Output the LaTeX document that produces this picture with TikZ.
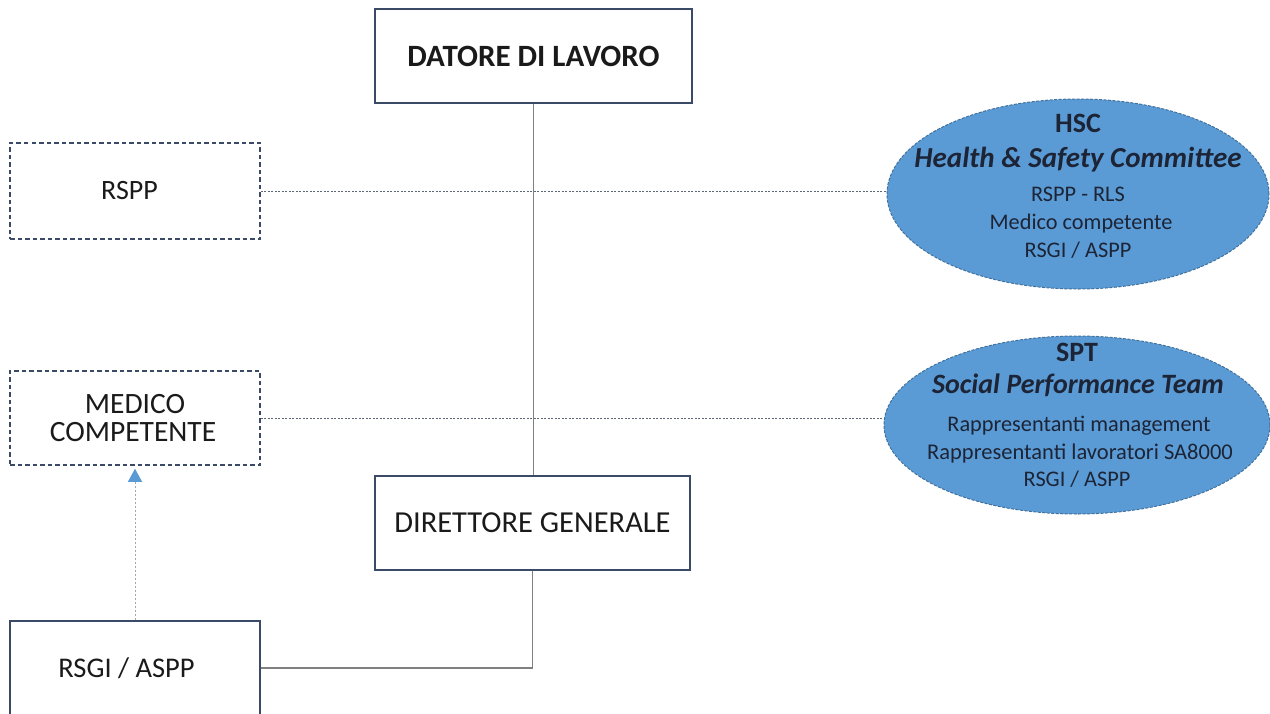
\documentclass[tikz,border=0pt]{standalone}
\usepackage{fontspec}
\setmainfont{Carlito}
\usetikzlibrary{arrows.meta,shapes.geometric}
\definecolor{boxline}{HTML}{3B4A66}
\definecolor{conn}{HTML}{808080}
\definecolor{dotc}{HTML}{5E6575}
\definecolor{ellfill}{HTML}{5B9BD5}
\definecolor{elldraw}{HTML}{41719C}
\definecolor{elltext}{HTML}{1C2436}
\definecolor{txt}{HTML}{1A1A1A}
\tikzset{
  solidbox/.style={draw=boxline, line width=1.3pt, fill=white, rectangle, inner sep=0pt, text=txt, align=center},
  dashbox/.style={draw=boxline, line width=1.5pt, dash pattern=on 4.5pt off 3pt, fill=white, rectangle, inner sep=0pt, text=txt, align=center},
  team/.style={ellipse, draw=elldraw, line width=1pt, dash pattern=on 3pt off 1.5pt, fill=ellfill, inner sep=0pt},
  etext/.style={anchor=base, text=elltext, inner sep=0pt},
  link/.style={draw=conn, line width=1.2pt},
  dotlink/.style={draw=dotc, line width=1pt, dash pattern=on 2pt off 1.5pt}
}
\begin{document}
\begin{tikzpicture}[x=1pt,y=-1pt]
\useasboundingbox (0,0) rectangle (1270,713);
\fill[white] (0,0) rectangle (1270,713);

\node[solidbox, minimum width=317pt, minimum height=94pt, font=\fontsize{31}{34}\selectfont\bfseries] (dl) at (533.5,56) {\raisebox{-3pt}{DATORE DI LAVORO}};
\node[dashbox, minimum width=250pt, minimum height=96pt, font=\fontsize{28}{32}\selectfont] (rspp) at (135,191) {RSPP\hspace*{11pt}};
\node[dashbox, minimum width=250pt, minimum height=94pt, font=\fontsize{29.5}{28}\selectfont] (med) at (135,418) {MEDICO\\[0pt]COMPETENTE\hspace*{4pt}};
\node[solidbox, minimum width=315pt, minimum height=94pt, font=\fontsize{30.5}{34}\selectfont] (dg) at (532.5,523) {DIRETTORE GENERALE};
\node[solidbox, minimum width=250pt, minimum height=94pt, font=\fontsize{28.5}{32}\selectfont] (rsgi) at (135,668) {RSGI / ASPP\hspace*{17pt}};

\node[team, minimum width=382pt, minimum height=190pt] (hsc) at (1078,194) {};
\node[etext, font=\fontsize{28}{30}\selectfont\bfseries] (hsc1) at (1078,132) {HSC};
\node[etext, font=\fontsize{29}{30}\selectfont\bfseries\itshape] (hsc2) at (1078,167) {Health \& Safety Committee};
\node[etext, font=\fontsize{22.3}{24}\selectfont] (hsc3) at (1078,201.5) {RSPP - RLS};
\node[etext, font=\fontsize{22.3}{24}\selectfont] (hsc4) at (1081,229.5) {Medico competente};
\node[etext, font=\fontsize{22.3}{24}\selectfont] (hsc5) at (1078,257) {RSGI / ASPP};

\node[team, minimum width=386pt, minimum height=178pt] (spt) at (1077,425) {};
\node[etext, font=\fontsize{28}{30}\selectfont\bfseries] (spt1) at (1077,361) {SPT};
\node[etext, font=\fontsize{28}{30}\selectfont\bfseries\itshape] (spt2) at (1078,393) {Social Performance Team};
\node[etext, font=\fontsize{22.3}{24}\selectfont] (spt3) at (1079,431.5) {Rappresentanti management};
\node[etext, font=\fontsize{22.5}{24}\selectfont] (spt4) at (1080,459) {Rappresentanti lavoratori SA8000};
\node[etext, font=\fontsize{22.3}{24}\selectfont] (spt5) at (1077,486.5) {RSGI / ASPP};

\draw[link] (dl.south) -- (dl.south |- dg.north);
\draw[link] (dg.south) |- (rsgi.east);
\draw[dotlink] (rspp.east) -- (rspp.east -| hsc.west);
\draw[dotlink] (med.east) -- (med.east -| spt.west);
\draw[draw=conn!70, line width=0.8pt, dash pattern=on 2pt off 2pt,
  -{Triangle[length=13pt, width=14pt, fill=ellfill, color=ellfill]}, shorten >=3pt] (rsgi.north) -- (med.south);
\end{tikzpicture}
\end{document}
